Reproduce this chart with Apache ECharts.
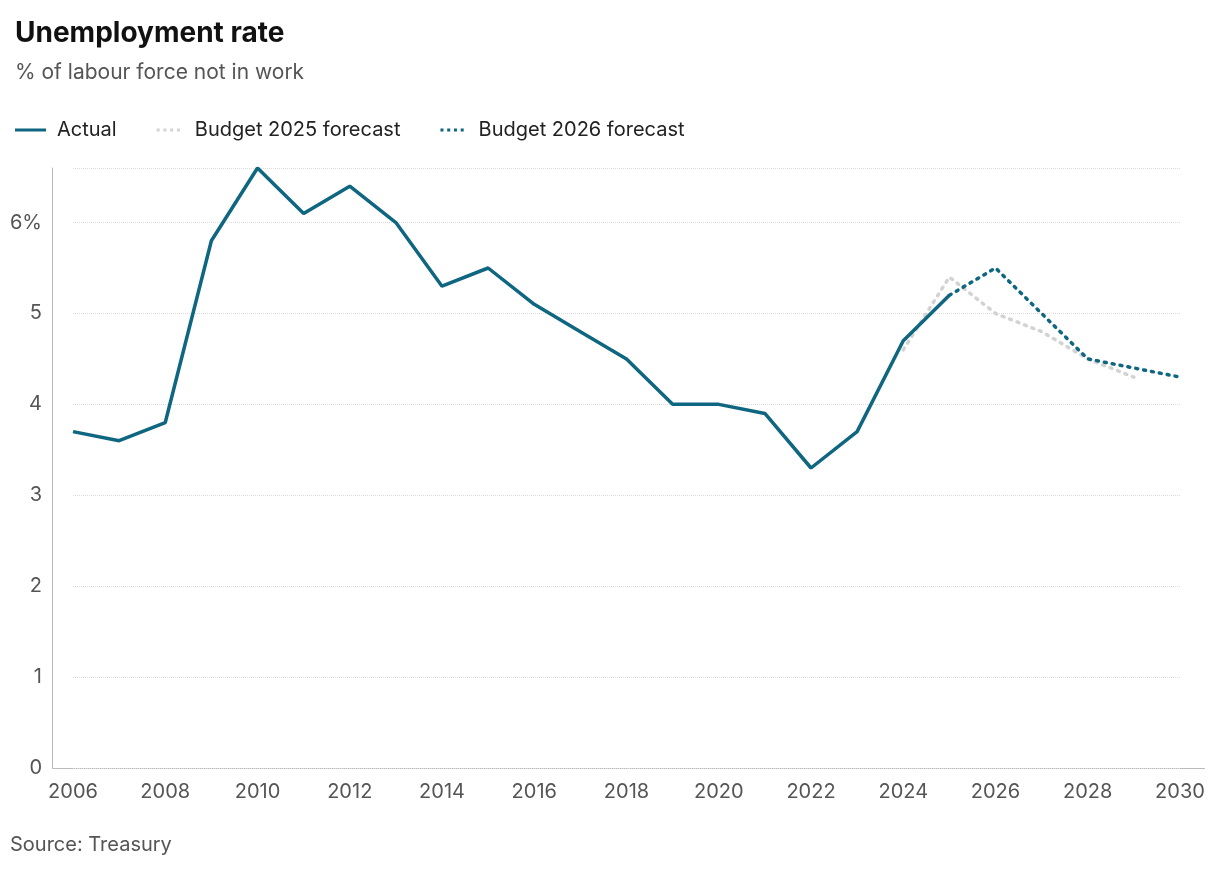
<!DOCTYPE html>
<html lang="en">
<head>
  <meta charset="UTF-8">
  <title>Unemployment rate</title>
  <style>
    html, body { margin: 0; padding: 0; background: #fff; }
    #myChart { width: 1220px; height: 874px; }
  </style>
</head>
<body>
  <div id="myChart"></div>
  <script src="https://cdn.jsdelivr.net/npm/echarts@6/dist/echarts.min.js"></script>
  <script>
    // years on the x axis
    const years = [];
    for (let y = 2006; y <= 2030; y++) years.push(String(y));
    const actual = [3.7, 3.6, 3.8, 5.8, 6.6, 6.1, 6.4, 6.0, 5.3, 5.5, 5.1, 4.8, 4.5, 4.0, 4.0, 3.9, 3.3, 3.7, 4.7, 5.2];
    const budget2025Years = ['2024', '2025', '2026', '2027', '2028', '2029'];
    const budget2025 = [4.6, 5.4, 5.0, 4.8, 4.5, 4.3];
    const budget2026Years = ['2025', '2026', '2027', '2028', '2029', '2030'];
    const budget2026 = [5.2, 5.5, 5.0, 4.5, 4.4, 4.3];

    const font = 'Inter, "Noto Sans", sans-serif';
    const blue = '#0f6681';
    const grey = '#d3d3d3';

    const pairs = (xs, ys) => xs.map((x, i) => [x, ys[i]]);
    const dots = 'path://M0,0h4v4h-4zM9,0h4v4h-4zM18,0h4v4h-4zM27,0h4v4h-4z';

    const option = {
      animation: false,
      textStyle: { fontFamily: font },
      title: {
        text: 'Unemployment rate',
        subtext: '% of labour force not in work',
        left: 10, top: 15,
        itemGap: 14,
        textStyle: { fontSize: 28, fontWeight: 'bold', color: '#111', fontFamily: font },
        subtextStyle: { fontSize: 21, color: '#555', fontFamily: font }
      },
      legend: {
        left: 10, top: 115,
        itemWidth: 31, itemHeight: 3, itemGap: 40,
        icon: 'rect',
        textStyle: { fontSize: 20, color: '#222', fontFamily: font, padding: [0, 0, 0, 6] },
        data: [
          { name: 'Actual', itemStyle: { color: blue } },
          { name: 'Budget 2025 forecast', icon: dots, itemStyle: { color: grey } },
          { name: 'Budget 2026 forecast', icon: dots, itemStyle: { color: blue } }
        ]
      },
      graphic: [
        {
          type: 'text', left: 10, top: 835,
          style: { text: 'Source: Treasury', fontSize: 20, fill: '#555', fontFamily: font }
        },
        {
          type: 'line', silent: true,
          shape: { x1: 52, y1: 768.5, x2: 1205, y2: 768.5 },
          style: { stroke: '#bbb', lineWidth: 1 }
        }
      ],
      grid: { left: 73, right: 40, top: 168, bottom: 106 },
      xAxis: {
        type: 'category',
        data: years,
        boundaryGap: false,
        axisLine: { show: false },
        axisTick: { show: false },
        axisLabel: { interval: 1, fontSize: 20, color: '#555', margin: 14 }
      },
      yAxis: {
        type: 'value',
        min: 0, max: 6.6, interval: 1,
        offset: 21,
        axisLine: { show: true, lineStyle: { color: '#bbb' } },
        axisTick: { show: false },
        axisLabel: {
          fontSize: 20, color: '#555', margin: 10,
          formatter: v => (v > 6 ? '' : v === 6 ? '6%' : String(v))
        },
        splitLine: { lineStyle: { color: '#ddd', type: 'dotted' } }
      },
      series: [
        {
          name: 'Budget 2025 forecast', type: 'line',
          data: pairs(budget2025Years, budget2025),
          symbol: 'none', z: 1,
          lineStyle: { color: grey, width: 3.5, type: [2, 6], cap: 'round' }
        },
        {
          name: 'Budget 2026 forecast', type: 'line',
          data: pairs(budget2026Years, budget2026),
          symbol: 'none', z: 2,
          lineStyle: { color: blue, width: 3.5, type: [2, 6], cap: 'round' }
        },
        {
          name: 'Actual', type: 'line',
          data: pairs(years.slice(0, actual.length), actual),
          symbol: 'none', z: 3,
          lineStyle: { color: blue, width: 3.5 }
        }
      ]
    };

    const myChart = echarts.init(document.getElementById('myChart'));
    myChart.setOption(option);
  </script>
</body>
</html>
